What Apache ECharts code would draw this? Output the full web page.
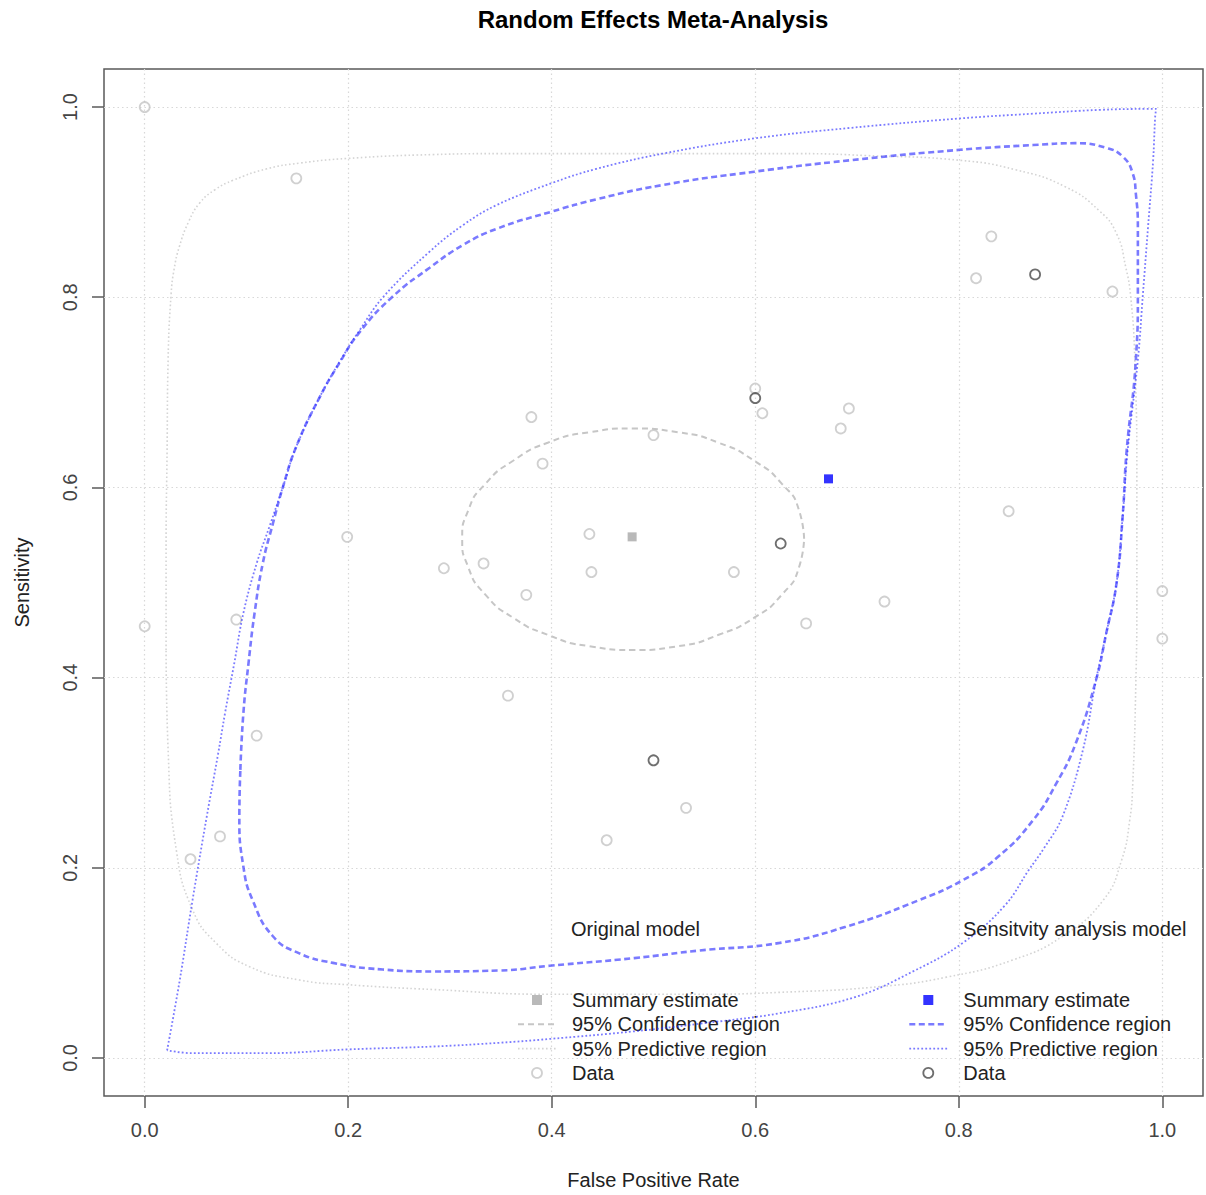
<!DOCTYPE html>
<html><head><meta charset="utf-8">
<script src="https://cdn.jsdelivr.net/npm/echarts@6/dist/echarts.min.js"></script>
<style>html,body{margin:0;padding:0;background:#fff}#chart{width:1206px;height:1195px}</style>
</head><body><div id="chart"></div>
<script>
// ---------- data ----------
const tickValues = [0, 0.2, 0.4, 0.6, 0.8, 1.0];

const origData = [[0.000,1.000],[0.149,0.925],[0.000,0.454],[0.090,0.461],[0.110,0.339],[0.074,0.233],[0.045,0.209],[0.199,0.548],[0.294,0.515],[0.333,0.520],[0.357,0.381],[0.375,0.487],[0.380,0.674],[0.391,0.625],[0.437,0.551],[0.439,0.511],[0.454,0.229],[0.500,0.655],[0.532,0.263],[0.579,0.511],[0.600,0.704],[0.607,0.678],[0.650,0.457],[0.684,0.662],[0.692,0.683],[0.727,0.480],[0.817,0.820],[0.832,0.864],[0.849,0.575],[0.951,0.806],[1.000,0.491],[1.000,0.441]];
const sensData = [[0.600,0.694],[0.625,0.541],[0.875,0.824],[0.500,0.313]];
const origSummary = [[0.479,0.548]];
const sensSummary = [[0.672,0.609]];

const origConfRegion = [[0.648,0.546],[0.643,0.576],[0.626,0.604],[0.599,0.628],[0.564,0.647],[0.524,0.658],[0.480,0.662],[0.437,0.658],[0.396,0.647],[0.362,0.628],[0.335,0.604],[0.318,0.576],[0.312,0.546],[0.318,0.516],[0.335,0.487],[0.362,0.463],[0.396,0.445],[0.437,0.433],[0.480,0.429],[0.524,0.433],[0.564,0.445],[0.599,0.463],[0.626,0.487],[0.643,0.516],[0.648,0.546]];

const origPredRegion = [[0.021,0.429],[0.021,0.534],[0.022,0.639],[0.023,0.734],[0.026,0.804],[0.029,0.830],[0.034,0.853],[0.043,0.879],[0.054,0.899],[0.069,0.913],[0.087,0.923],[0.120,0.935],[0.152,0.941],[0.200,0.946],[0.283,0.950],[0.349,0.951],[0.447,0.951],[0.545,0.951],[0.643,0.951],[0.709,0.949],[0.801,0.944],[0.856,0.934],[0.905,0.916],[0.938,0.891],[0.955,0.867],[0.964,0.832],[0.969,0.800],[0.973,0.734],[0.975,0.608],[0.975,0.482],[0.974,0.394],[0.971,0.289],[0.968,0.250],[0.960,0.208],[0.942,0.166],[0.902,0.128],[0.853,0.103],[0.788,0.085],[0.722,0.075],[0.624,0.069],[0.545,0.067],[0.398,0.067],[0.283,0.072],[0.200,0.077],[0.152,0.082],[0.103,0.096],[0.070,0.121],[0.047,0.156],[0.031,0.219],[0.023,0.324],[0.021,0.429]];

const sensConfRegion = [[0.094,0.303],[0.097,0.363],[0.102,0.415],[0.108,0.468],[0.116,0.520],[0.126,0.562],[0.136,0.601],[0.149,0.643],[0.172,0.695],[0.192,0.732],[0.211,0.763],[0.243,0.800],[0.280,0.831],[0.313,0.855],[0.346,0.872],[0.400,0.890],[0.444,0.903],[0.509,0.918],[0.599,0.932],[0.693,0.944],[0.801,0.955],[0.873,0.960],[0.915,0.962],[0.945,0.957],[0.961,0.948],[0.971,0.930],[0.974,0.909],[0.976,0.874],[0.976,0.804],[0.974,0.734],[0.965,0.639],[0.961,0.569],[0.955,0.499],[0.945,0.447],[0.935,0.398],[0.915,0.331],[0.896,0.289],[0.873,0.250],[0.838,0.211],[0.804,0.187],[0.761,0.166],[0.689,0.138],[0.624,0.121],[0.545,0.113],[0.481,0.105],[0.398,0.097],[0.349,0.092],[0.283,0.091],[0.234,0.093],[0.185,0.100],[0.152,0.110],[0.126,0.128],[0.106,0.166],[0.097,0.201],[0.093,0.254],[0.094,0.303]];

const sensPredRegion = [[0.022,0.008],[0.034,0.079],[0.047,0.166],[0.061,0.254],[0.072,0.319],[0.079,0.363],[0.088,0.415],[0.097,0.468],[0.110,0.520],[0.123,0.560],[0.136,0.601],[0.149,0.643],[0.172,0.695],[0.192,0.733],[0.211,0.765],[0.235,0.801],[0.280,0.848],[0.313,0.876],[0.346,0.897],[0.400,0.920],[0.444,0.935],[0.509,0.951],[0.599,0.967],[0.693,0.978],[0.801,0.988],[0.873,0.993],[0.938,0.997],[0.985,0.998],[0.994,0.998],[0.993,0.990],[0.991,0.944],[0.986,0.874],[0.981,0.804],[0.976,0.734],[0.966,0.639],[0.961,0.569],[0.955,0.499],[0.945,0.447],[0.935,0.398],[0.922,0.324],[0.902,0.254],[0.884,0.221],[0.869,0.198],[0.845,0.160],[0.804,0.121],[0.755,0.091],[0.698,0.064],[0.624,0.047],[0.545,0.036],[0.481,0.028],[0.398,0.020],[0.349,0.016],[0.283,0.012],[0.200,0.009],[0.120,0.005],[0.047,0.005],[0.022,0.008]];

const legendNames = ['Summary estimate', '95% Confidence region', '95% Predictive region', 'Data'];
const SENS = ' (sensitivity)';

// ---------- styles ----------
const FONT = '"Liberation Sans", Arial, Helvetica, sans-serif';
const C = {
  grayPoint: '#c4c4c4', graySummary: '#a8a8a8', grayDash: '#c6c6c6', grayDot: '#d4d4d4',
  blueLine: 'rgba(40,40,255,0.62)', blueSummary: '#0000ff', darkPoint: '#4a4a4a'
};
const lsOrigConf = {color: C.grayDash, width: 2, type: [6, 4]};
const lsOrigPred = {color: C.grayDot, width: 1.6, type: [1.6, 2.4]};
const lsSensConf = {color: C.blueLine, width: 2.6, type: [6, 3.5]};
const lsSensPred = {color: C.blueLine, width: 1.8, type: [1.8, 2.2]};
const HIDDEN = {color: 'rgba(0,0,0,0)', opacity: 0, borderWidth: 0};

function lineSeries(name, data, ls, z, smooth) {
  return {name, type: 'line', data, smooth, symbol: 'none', showSymbol: false,
    lineStyle: ls, itemStyle: HIDDEN, z, silent: true, emphasis: {disabled: true}};
}
function pointSeries(name, data, color, z) {
  return {name, type: 'scatter', data, symbol: 'circle', symbolSize: 10, z, silent: true,
    itemStyle: {color: 'rgba(0,0,0,0)', borderColor: color, borderWidth: 1.8}};
}
function squareSeries(name, data, color, z) {
  return {name, type: 'scatter', data, symbol: 'rect', symbolSize: 9, z, silent: true,
    itemStyle: {color}};
}

const SQUARE = 'path://M0,0L10,0L10,10L0,10Z';
function legendBlock(left, suffix, sq, conf, pred, pt) {
  return {
    orient: 'vertical', left, top: 990, padding: 0, itemWidth: 38, itemHeight: 10, itemGap: 4.3,
    selectedMode: false,
    formatter: n => n.replace(SENS, ''),
    textStyle: {fontSize: 20, color: '#222', fontFamily: FONT, lineHeight: 20, padding: [0, 0, 0, 11]},
    data: [
      {name: legendNames[0] + suffix, icon: SQUARE, itemStyle: {color: sq}},
      {name: legendNames[1] + suffix, lineStyle: conf, itemStyle: HIDDEN},
      {name: legendNames[2] + suffix, lineStyle: pred, itemStyle: HIDDEN},
      {name: legendNames[3] + suffix, icon: 'circle', itemStyle: {color: 'rgba(0,0,0,0)', borderColor: pt, borderWidth: 1.8}}
    ]
  };
}

const axisCommon = {
  type: 'value', min: -0.04, max: 1.04,
  nameLocation: 'middle',
  nameTextStyle: {fontSize: 20, color: '#222', fontFamily: FONT},
  axisLine: {show: false, onZero: false},
  axisTick: {show: true, length: 12, customValues: tickValues, lineStyle: {color: '#5a5a5a', width: 1.5}},
  axisLabel: {customValues: tickValues, formatter: v => v.toFixed(1), fontSize: 20, color: '#444', margin: 24, fontFamily: FONT},
  splitLine: {show: true, lineStyle: {type: [1.5, 3], color: '#d8d8d8', width: 1.2}}
};

const option = {
  animation: false,
  backgroundColor: '#ffffff',
  textStyle: {fontFamily: FONT},
  title: [
    {text: 'Random Effects Meta-Analysis', left: 653, top: 7, textAlign: 'center', padding: 0,
      textStyle: {fontSize: 24, fontWeight: 'bold', color: '#000', fontFamily: FONT}},
    {text: 'Original model', left: 571, top: 919, padding: 0,
      textStyle: {fontSize: 20, fontWeight: 'normal', color: '#222', fontFamily: FONT}},
    {text: 'Sensitvity analysis model', left: 963, top: 919, padding: 0,
      textStyle: {fontSize: 20, fontWeight: 'normal', color: '#222', fontFamily: FONT}}
  ],
  legend: [
    legendBlock(517, '', C.graySummary, lsOrigConf, lsOrigPred, C.grayPoint),
    legendBlock(908, SENS, C.blueSummary, lsSensConf, lsSensPred, C.darkPoint)
  ],
  grid: {left: 104, top: 69, width: 1099, height: 1027, show: true, borderColor: '#5a5a5a', borderWidth: 1.5, backgroundColor: 'transparent'},
  xAxis: Object.assign({}, axisCommon, {name: 'False Positive Rate', nameGap: 74}),
  yAxis: Object.assign({}, axisCommon, {name: 'Sensitivity', nameGap: 72,
    axisLabel: Object.assign({}, axisCommon.axisLabel, {rotate: 90})}),
  series: [
    lineSeries(legendNames[2], origPredRegion, lsOrigPred, 2, 0.5),
    lineSeries(legendNames[1], origConfRegion, lsOrigConf, 2, 0.6),
    pointSeries(legendNames[3], origData, C.grayPoint, 3),
    squareSeries(legendNames[0], origSummary, C.graySummary, 3),
    lineSeries(legendNames[2] + SENS, sensPredRegion, lsSensPred, 4, 0.4),
    lineSeries(legendNames[1] + SENS, sensConfRegion, lsSensConf, 4, 0.5),
    pointSeries(legendNames[3] + SENS, sensData, C.darkPoint, 5),
    squareSeries(legendNames[0] + SENS, sensSummary, C.blueSummary, 5)
  ]
};

const chart = echarts.init(document.getElementById('chart'), null, {renderer: 'svg', width: 1206, height: 1195});
chart.setOption(option);
</script>
</body></html>
